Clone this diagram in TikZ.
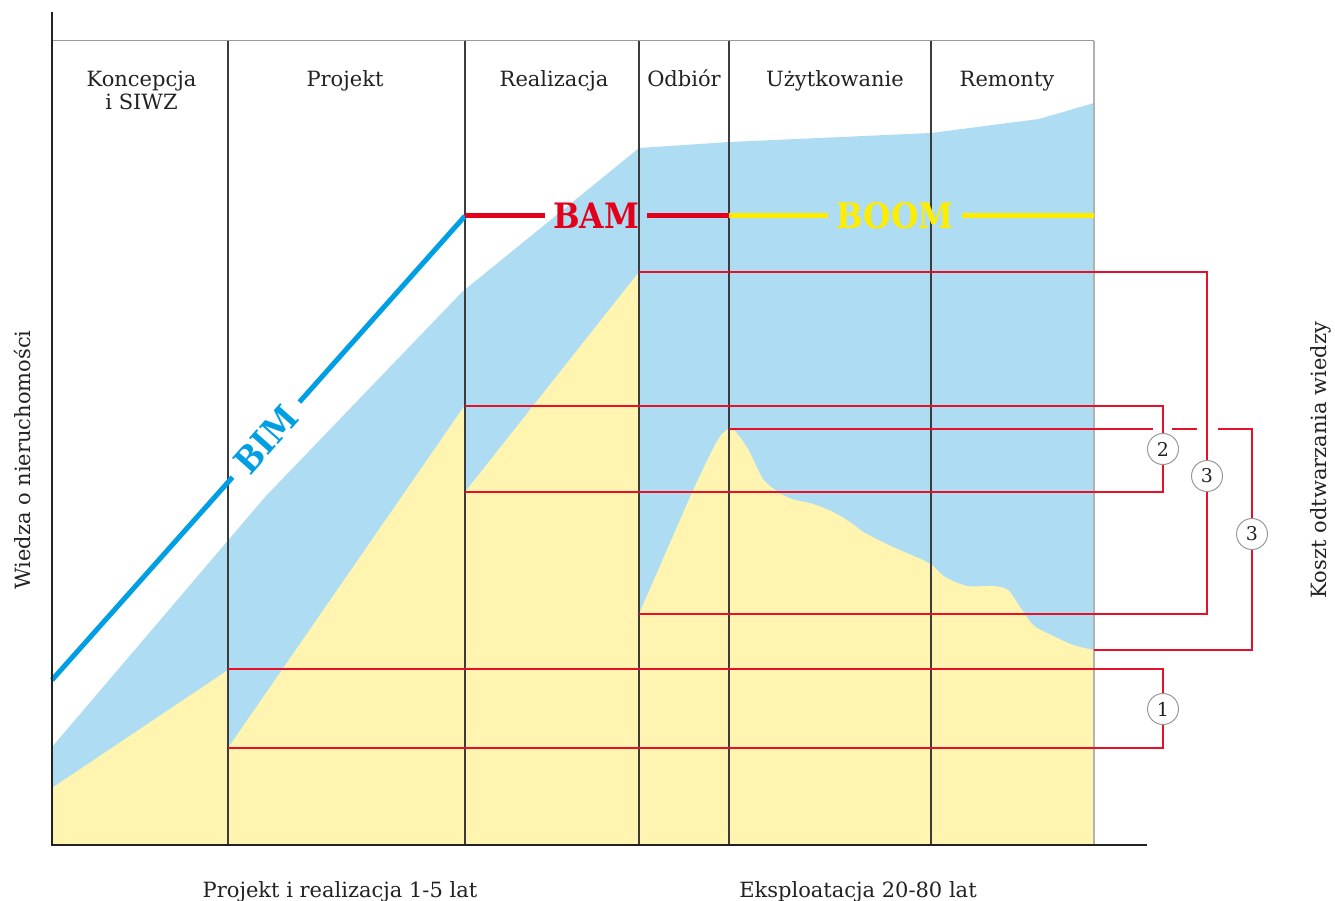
\documentclass[tikz,border=0pt]{standalone}
\usepackage{fontspec}
\setmainfont{DejaVu Serif}
\newfontfamily\condserif{DejaVu Serif Condensed}
\usetikzlibrary{calc}

\definecolor{knowblue}{RGB}{174,221,243}
\definecolor{knowyellow}{RGB}{255,245,176}
\definecolor{bimblue}{RGB}{0,159,227}
\definecolor{bamred}{RGB}{226,0,26}
\definecolor{boomyellow}{RGB}{255,237,0}
\definecolor{costred}{RGB}{230,16,40}
\definecolor{inkgray}{RGB}{34,34,34}
\definecolor{rulegray}{RGB}{60,60,60}

\tikzset{
  phasesep/.style={draw=rulegray, line width=1.2pt},
  topframe/.style={draw=black!40, line width=1pt},
  axisline/.style={draw=inkgray, line width=2pt},
  costline/.style={draw=costred, line width=1.3pt},
  phase/.style={anchor=base, text=inkgray, font=\fontsize{21}{23}\selectfont, align=center},
  sidelabel/.style={rotate=90, text=inkgray, font=\fontsize{21}{23}\selectfont},
  badge/.style={circle, draw=black!40, fill=white, line width=1pt, minimum size=31pt,
                inner sep=0pt, text=inkgray, font=\fontsize{19}{19}\selectfont},
  era/.style={font=\condserif\bfseries\fontsize{35}{35}\selectfont, inner xsep=8pt, inner ysep=0pt},
  eraline/.style={line width=5pt},
}

\begin{document}
\begin{tikzpicture}[x=1pt,y=-1pt]
\useasboundingbox (0,0) rectangle (1335,901);

% knowledge available (blue band)
\fill[knowblue] (52,747) -- (265,497) -- (462,292) -- (639,148) -- (729,142)
  -- (931,133) -- (1039,119) -- (1094,103) -- (1094,845) -- (52,845) -- cycle;

% knowledge actually held (yellow)
\fill[knowyellow] (52,788) -- (228,670) -- (228,748) -- (465,405) -- (465,492)
  -- (639,272) -- (639,614) -- (690,497)
  -- plot[smooth, tension=0.45] coordinates {
     (690,497) (704,467) (716,443) (723,433) (729,429) (735,431)
     (748,449) (763,479) (778,492) (792,499) (813,504) (833,512) (850,522)
     (865,533) (893,547) (923,560) (933,566) (945,577) (967,586) (993,586)
     (1008,590) (1020,607) (1033,625) (1047,633) (1073,645) (1094,650)}
  -- (1094,845) -- (52,845) -- cycle;

% phase separators
\foreach \x in {228,465,639,729,931}
  \draw[phasesep] (\x,41) -- (\x,845);
\draw[topframe] (52,41) -- (1094,41);
\draw[draw=black!30, line width=2pt] (1094,41) -- (1094,845);

% phase names
\node[phase] (koncepcja) at (141.5,110) {Koncepcja\\i SIWZ};
\node[phase] (projekt) at (345,87) {Projekt};
\node[phase] (realizacja) at (554,87) {Realizacja};
\node[phase] (odbior) at (684,87) {Odbiór};
\node[phase] (uzytkowanie) at (835,87) {Użytkowanie};
\node[phase] (remonty) at (1007,87) {Remonty};

% cost brackets
\coordinate (c1a) at (228,669);  \coordinate (c1b) at (1163,669);
\coordinate (c1c) at (1163,748); \coordinate (c1d) at (228,748);
\draw[costline] (c1a) -- (c1b) -- (c1c) -- (c1d);

\coordinate (c2a) at (465,406);  \coordinate (c2b) at (1163,406);
\coordinate (c2c) at (1163,492); \coordinate (c2d) at (465,492);
\draw[costline] (c2a) -- (c2b) -- (c2c) -- (c2d);

\coordinate (c3a) at (639,272);  \coordinate (c3b) at (1207,272);
\coordinate (c3c) at (1207,614); \coordinate (c3d) at (639,614);
\draw[costline] (c3a) -- (c3b) -- (c3c) -- (c3d);

\coordinate (c4a) at (729,429);  \coordinate (c4g1) at (1153,429);
\coordinate (c4g2) at (1172,429); \coordinate (c4g3) at (1197,429);
\coordinate (c4g4) at (1218,429); \coordinate (c4b) at (1252,429);
\coordinate (c4c) at (1252,650); \coordinate (c4d) at (1094,650);
\draw[costline] (c4a) -- (c4g1);
\draw[costline] (c4g2) -- (c4g3);
\draw[costline] (c4g4) -- (c4b) -- (c4c) -- (c4d);

\node[badge] (n1) at (1163,709) {1};
\node[badge] (n2) at (1163,449) {2};
\node[badge] (n3) at (1207,476) {3};
\node[badge] (n4) at (1252,534) {3};

% BIM / BAM / BOOM
\coordinate (bimA) at (52,680);
\coordinate (bimB) at (465,216);
\node[era, text=bimblue, rotate=48.3, inner xsep=12pt] (bim) at ($(bimA)!0.518!(bimB)$) {BIM};
\draw[eraline, draw=bimblue] (bimA) -- (bim.west);
\draw[eraline, draw=bimblue] (bim.east) -- (bimB);

\coordinate (bamB) at (729,216);
\node[era, text=bamred] (bam) at (596,216) {BAM};
\draw[eraline, draw=bamred] (bimB) -- (bam.west);
\draw[eraline, draw=bamred] (bam.east) -- (bamB);

\coordinate (boomB) at (1094,216);
\node[era, text=boomyellow] (boom) at (895,216) {BOOM};
\draw[eraline, draw=boomyellow] (bamB) -- (boom.west);
\draw[eraline, draw=boomyellow] (boom.east) -- (boomB);

% axes
\coordinate (origin) at (52,845);
\coordinate (ytop) at (52,12);
\coordinate (xend) at (1147,845);
\draw[axisline] (ytop) -- (origin) -- (xend);

% axis captions
\node[sidelabel] (ylab) at (22,460) {Wiedza o nieruchomości};
\node[sidelabel] (costlab) at (1321,460) {Koszt odtwarzania wiedzy};
\node[phase] (span1) at (340,897) {Projekt i realizacja 1-5 lat};
\node[phase] (span2) at (858,897) {Eksploatacja 20-80 lat};
\end{tikzpicture}
\end{document}
